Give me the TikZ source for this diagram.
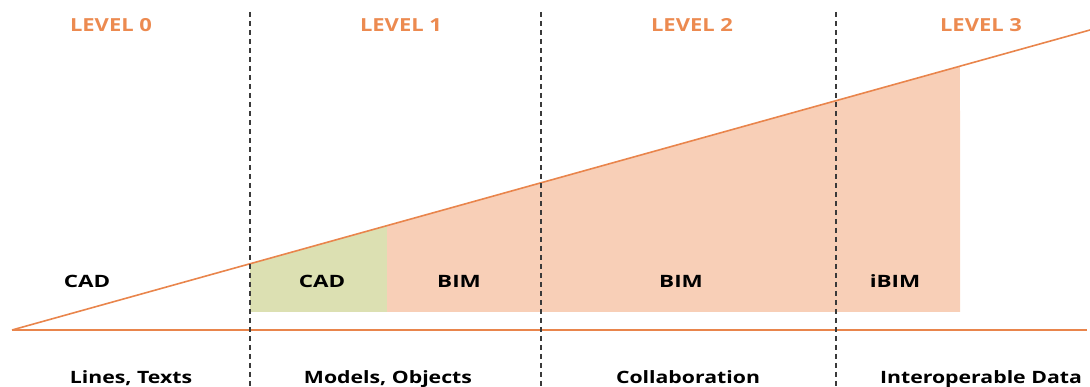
\documentclass[tikz,border=0pt]{standalone}
\usepackage{fontspec}
\setmainfont{Open Sans}[BoldFont={* Bold}]
\newfontfamily\levelfont{Open Sans}[BoldFont={* Bold}, FakeStretch=1.22]
\newfontfamily\techfont{Open Sans}[BoldFont={* Bold}, FakeStretch=1.32]
\newfontfamily\stagefont{Open Sans}[BoldFont={* Bold}, FakeStretch=1.25]
\usetikzlibrary{calc}
\definecolor{trendorange}{HTML}{E9854C}
\definecolor{levelorange}{HTML}{EC8A50}
\definecolor{peachfill}{HTML}{F8CFB7}
\definecolor{greenfill}{HTML}{DCE0B2}
\definecolor{dashgray}{HTML}{3A3A3A}
\tikzset{
  levellabel/.style={text=levelorange, font=\levelfont\bfseries\fontsize{18}{18}\selectfont, anchor=base, inner sep=0pt},
  techlabel/.style={text=black, font=\techfont\bfseries\fontsize{17}{17}\selectfont, anchor=base, inner sep=0pt},
  stagelabel/.style={text=black, font=\stagefont\bfseries\fontsize{17}{17}\selectfont, anchor=base, inner sep=0pt},
  trendline/.style={draw=trendorange, line width=1.6pt},
  divider/.style={draw=dashgray, line width=1.6pt, dash pattern=on 5pt off 4pt},
}
\begin{document}
\begin{tikzpicture}[x=1pt, y=-1pt]
\useasboundingbox (0,0) rectangle (1090,387);

% growth line from the origin point to the right edge
\coordinate (origin) at (12,330);
\coordinate (tip) at (1090,30);
\coordinate (axisend) at (1087,330);

% filled stages under the growth line
\fill[greenfill] (250,312) -- (387,312) -- ($(origin)!0.3479!(tip)$) -- ($(origin)!0.2208!(tip)$) -- cycle;
\fill[peachfill] (387,312) -- (960,312) -- ($(origin)!0.8794!(tip)$) -- ($(origin)!0.3479!(tip)$) -- cycle;

% axis and growth line
\draw[trendline] (origin) -- (axisend);
\draw[trendline] (origin) -- (tip);

% level dividers
\coordinate (d1t) at (250,12); \coordinate (d1b) at (250,387);
\coordinate (d2t) at (541,12); \coordinate (d2b) at (541,387);
\coordinate (d3t) at (836,12); \coordinate (d3b) at (836,387);
\draw[divider] (d1t) -- (d1b);
\draw[divider] (d2t) -- (d2b);
\draw[divider] (d3t) -- (d3b);

% level headings
\node[levellabel] (lv0) at (111,31.5) {LEVEL 0};
\node[levellabel] (lv1) at (401,31.5) {LEVEL 1};
\node[levellabel] (lv2) at (692,31.5) {LEVEL 2};
\node[levellabel] (lv3) at (981,31.5) {LEVEL 3};

% technologies
\node[techlabel] (cad0) at (87,288) {CAD};
\node[techlabel] (cad1) at (322,288) {CAD};
\node[techlabel] (bim1) at (459,288) {BIM};
\node[techlabel] (bim2) at (681,288) {BIM};
\node[techlabel] (ibim) at (895,288) {iBIM};

% stage descriptions
\node[stagelabel] (s0) at (131,383) {Lines, Texts};
\node[stagelabel] (s1) at (388,383) {Models, Objects};
\node[stagelabel] (s2) at (688,383) {Collaboration};
\node[stagelabel] (s3) at (981,383) {Interoperable Data};
\end{tikzpicture}
\end{document}
